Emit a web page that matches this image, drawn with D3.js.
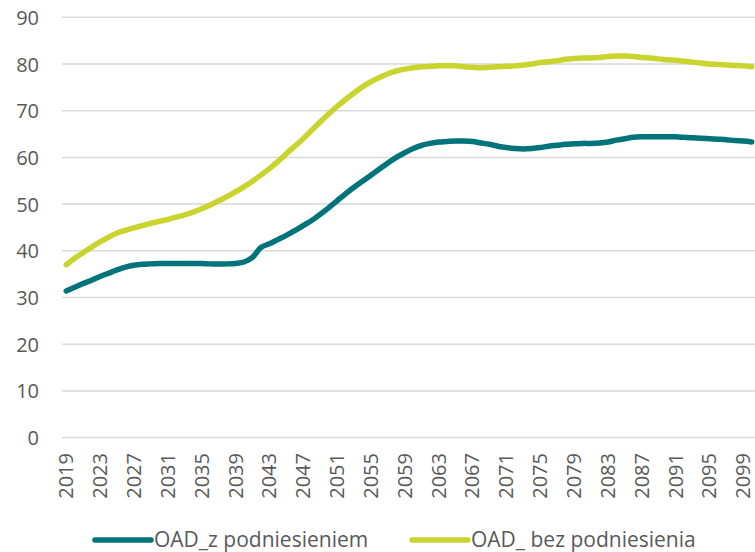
<!DOCTYPE html>
<html>
<head>
<meta charset="utf-8">
<script src="https://cdn.jsdelivr.net/npm/d3@7"></script>
<style>
  body { margin: 0; background: #fff; }
  svg text { font-family: "Open Sans", sans-serif; fill: #595959; }
</style>
</head>
<body>
<svg id="chart" width="755" height="552"></svg>
<script>
const years = d3.range(2019, 2101);

const zPodniesieniem = [
  31.4, 32.2, 33.0, 33.7, 34.5, 35.2, 35.9, 36.5, 36.9, 37.1,
  37.2, 37.3, 37.3, 37.3, 37.3, 37.3, 37.3, 37.2, 37.2, 37.2,
  37.3, 37.6, 38.6, 40.7, 41.5, 42.4, 43.3, 44.3, 45.4, 46.5,
  47.8, 49.2, 50.7, 52.2, 53.6, 54.9, 56.2, 57.5, 58.8, 60.0,
  61.0, 61.9, 62.6, 63.0, 63.3, 63.4, 63.5, 63.5, 63.4, 63.1,
  62.8, 62.4, 62.1, 61.9, 61.8, 61.9, 62.1, 62.4, 62.6, 62.8,
  62.9, 63.0, 63.0, 63.1, 63.3, 63.7, 64.0, 64.3, 64.4, 64.4,
  64.4, 64.4, 64.4, 64.3, 64.2, 64.1, 64.0, 63.9, 63.8, 63.6,
  63.5, 63.3
];

const bezPodniesienia = [
  37.0, 38.4, 39.6, 40.8, 41.9, 42.9, 43.8, 44.4, 44.9, 45.4,
  45.9, 46.3, 46.7, 47.2, 47.7, 48.3, 49.0, 49.8, 50.7, 51.6,
  52.6, 53.7, 54.9, 56.2, 57.6, 59.1, 60.8, 62.4, 64.0, 65.8,
  67.6, 69.3, 70.9, 72.4, 73.8, 75.1, 76.2, 77.1, 77.9, 78.5,
  78.9, 79.2, 79.4, 79.5, 79.6, 79.6, 79.6, 79.4, 79.3, 79.2,
  79.3, 79.4, 79.5, 79.6, 79.8, 80.0, 80.3, 80.5, 80.7, 81.0,
  81.2, 81.3, 81.3, 81.4, 81.6, 81.7, 81.7, 81.6, 81.4, 81.3,
  81.1, 80.9, 80.8, 80.6, 80.4, 80.2, 80.0, 79.9, 79.8, 79.7,
  79.6, 79.4
];

const yTicks = d3.range(0, 91, 10);
const xTickYears = years.filter(y => (y - 2019) % 4 === 0);

const series = [
  { name: "OAD_z podniesieniem", values: zPodniesieniem, color: "#00737b" },
  { name: "OAD_ bez podniesienia", values: bezPodniesienia, color: "#c9d42e" }
];

const svg = d3.select("#chart");

const x = d3.scaleBand().domain(years).range([62, 756]);
const cx = yr => x(yr) + x.bandwidth() / 2;
const y = d3.scaleLinear().domain([0, 90]).range([437.6, 17.3]);

// gridlines
svg.append("g")
  .selectAll("line")
  .data(yTicks)
  .join("line")
  .attr("x1", 62).attr("x2", 755)
  .attr("y1", d => y(d)).attr("y2", d => y(d))
  .attr("stroke", "#d9d9d9")
  .attr("stroke-width", 1.5);

// y axis
const yAxis = svg.append("g")
  .attr("transform", "translate(39,0)")
  .call(d3.axisLeft(y).tickValues(yTicks).tickSize(0).tickPadding(0));
yAxis.select(".domain").remove();
yAxis.selectAll("text")
  .attr("font-size", 20)
  .attr("dy", "0.35em");

// x axis
const xAxis = svg.append("g")
  .attr("transform", "translate(0,447)")
  .call(d3.axisBottom(x).tickValues(xTickYears).tickSize(0).tickPadding(0));
xAxis.select(".domain").remove();
xAxis.selectAll("text")
  .attr("font-size", 20)
  .attr("text-anchor", "end")
  .attr("transform", "rotate(-90)")
  .attr("x", -6)
  .attr("y", 0)
  .attr("dy", "0.35em");

// lines
const line = d3.line()
  .x((d, i) => cx(years[i]))
  .y(d => y(d))
  .curve(d3.curveCatmullRom.alpha(0.5));

svg.append("g")
  .selectAll("path")
  .data(series)
  .join("path")
  .attr("d", d => line(d.values))
  .attr("fill", "none")
  .attr("stroke", d => d.color)
  .attr("stroke-width", 5.5)
  .attr("stroke-linejoin", "round")
  .attr("stroke-linecap", "round");

// legend
const legendX = [95, 412];
const legend = svg.append("g")
  .selectAll("g")
  .data(series)
  .join("g")
  .attr("transform", (d, i) => `translate(${legendX[i]},540)`);

legend.append("line")
  .attr("x1", 0).attr("x2", 56)
  .attr("stroke", d => d.color)
  .attr("stroke-width", 5.5)
  .attr("stroke-linecap", "round");

legend.append("text")
  .attr("x", 59)
  .attr("dy", "0.35em")
  .attr("font-size", 21)
  .text(d => d.name);
</script>
</body>
</html>
